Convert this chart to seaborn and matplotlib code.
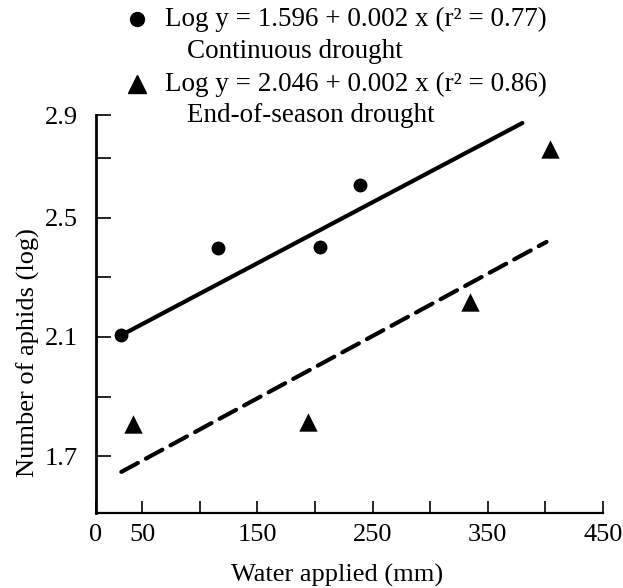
import matplotlib
matplotlib.use("Agg")
import matplotlib.pyplot as plt
import seaborn as sns
from matplotlib.lines import Line2D

# ---- data ----
cont_x = [32, 116, 204, 239]
cont_y = [2.106, 2.400, 2.402, 2.609]
end_x = [42, 194, 335, 404]
end_y = [1.807, 1.814, 2.217, 2.730]

cont_fit_x = [32, 380]
cont_fit_y = [2.106, 2.818]
end_fit_x = [32, 401]
end_fit_y = [1.647, 2.419]

x_ticks = [10, 50, 100, 150, 200, 250, 300, 350, 400, 450]
x_tick_labels = ["0", "50", "", "150", "", "250", "", "350", "", "450"]
# the drawn axis ends with a short top segment labelled 2.9
y_ticks = [1.7, 1.9, 2.1, 2.3, 2.5, 2.7, 2.845]
y_tick_labels = ["1.7", "", "2.1", "", "2.5", "", "2.9"]

legend_lines = [
    "Log y = 1.596 + 0.002 x (r\u00b2 = 0.77)",
    "Continuous drought",
    "Log y = 2.046 + 0.002 x (r\u00b2 = 0.86)",
    "End-of-season drought",
]

sns.set_theme(style="ticks")
plt.rcParams["font.family"] = ["Liberation Serif", "DejaVu Serif"]

W, H = 623, 588
top_px = 115
fig = plt.figure(figsize=(W / 100, H / 100), dpi=100)
ax = fig.add_axes([96 / W, 1 - 512.7 / H, (603 - 96) / W, (512.7 - top_px) / H])

sns.lineplot(x=cont_fit_x, y=cont_fit_y, ax=ax, color="black", lw=3,
             solid_capstyle="round", estimator=None, sort=False)
sns.lineplot(x=end_fit_x, y=end_fit_y, ax=ax, color="black", lw=3,
             linestyle=(0, (4.5, 2.2)), dash_capstyle="round",
             estimator=None, sort=False)
sns.scatterplot(x=cont_x, y=cont_y, ax=ax, marker="o", s=100,
                color="black", linewidth=0, clip_on=False, zorder=5)
sns.scatterplot(x=end_x, y=end_y, ax=ax, marker="^", s=175,
                color="black", linewidth=0, clip_on=False, zorder=5)

ax.set_xlim(10, 450)
ax.set_ylim(1.51, 2.845)
ax.set_xticks(x_ticks)
ax.set_xticklabels(x_tick_labels)
ax.set_yticks(y_ticks)
ax.set_yticklabels(y_tick_labels)

for s in ["top", "right"]:
    ax.spines[s].set_visible(False)
ax.spines["left"].set_linewidth(2.0)
ax.spines["bottom"].set_linewidth(1.6)
ax.spines["left"].set_color("black")
ax.spines["bottom"].set_color("black")

ax.tick_params(axis="y", direction="in", length=11, width=1.2, pad=13,
               labelsize=19, colors="black")
ax.tick_params(axis="x", direction="in", length=8.5, width=1.2, pad=8,
               labelsize=19, colors="black")

ax.set_xlabel("Water applied (mm)", fontsize=19, color="black")
ax.set_ylabel("Number of aphids (log)", fontsize=19, color="black")
ax.xaxis.set_label_coords((337 - 96) / 507, -(575 - 512.7) / (512.7 - top_px))
ax.yaxis.set_label_coords(-(96 - 28) / 507, (512.7 - 353) / (512.7 - top_px))
ax.xaxis.label.set_va("center")
ax.yaxis.label.set_va("center")

# legend block
rows_py = [19, 51, 84, 116]
rows_px = [165, 187, 165, 187]
for txt, px, py in zip(legend_lines, rows_px, rows_py):
    fig.text(px / W, 1 - py / H, txt, fontsize=19.5, ha="left", va="center",
             color="black")
fig.add_artist(Line2D([137 / W], [1 - 19 / H], transform=fig.transFigure,
                      marker="o", ms=10, color="black", lw=0))
fig.add_artist(Line2D([137 / W], [1 - 84 / H], transform=fig.transFigure,
                      marker="^", ms=13, color="black", lw=0))

fig.savefig("out.png", dpi=100)
